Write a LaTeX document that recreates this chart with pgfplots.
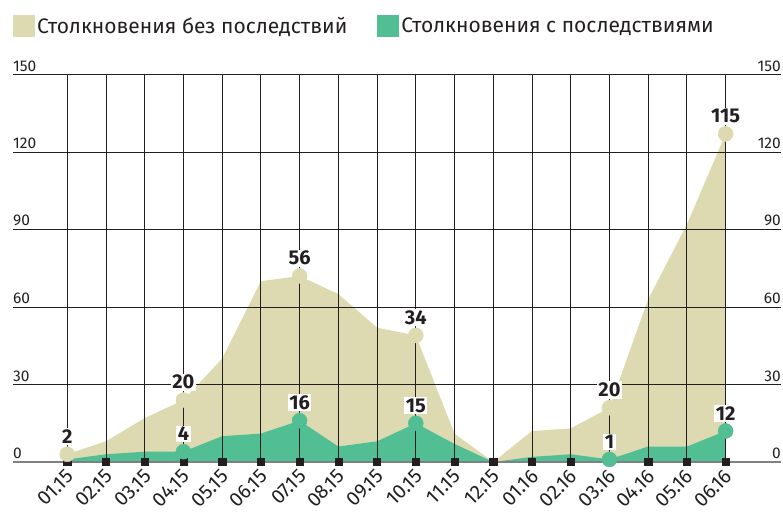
\documentclass[border=0pt]{standalone}
\usepackage{pgfplots}
\pgfplotsset{compat=1.18}
\usepackage{pgfplotstable}
\usepackage{fontspec}
\setmainfont{Fira Sans}
\definecolor{beige}{RGB}{221,218,178}
\definecolor{mint}{RGB}{82,190,148}
\definecolor{ink}{RGB}{35,31,32}

% x = month index, g = collisions with consequences, b = without consequences
\pgfplotstableread{
x g b
0 1 2
1 3 5
2 4 13
3 4 20
4 10 30
5 11 59
6 16 56
7 6 59
8 8 44
9 15 34
10 7 4
11 0 0
12 2 10
13 3 10
14 1 20
15 6 57
16 6 86
17 12 115
}\data
\pgfplotstableread{
x g b
0 1 2
3 4 20
6 16 56
9 15 34
14 1 20
17 12 115
}\markedb
\pgfplotstableread{
x g b
3 4 20
6 16 56
9 15 34
14 1 20
17 12 115
}\markedg

\tikzset{lbl/.style={anchor=south, yshift=9pt, fill=white, text=ink, inner sep=1.5pt,
    font=\bfseries\fontsize{20}{20}\selectfont}}
\pgfplotsset{
  common/.style={
    at={(13pt,66pt)}, anchor=south west,
    scale only axis, width=768pt, height=387.5pt,
    xmin=-1.4, xmax=18.43, ymin=0, ymax=150,
    axis line style={draw=none},
    ytick={0,30,60,90,120,150},
    major tick length=0pt,
    /pgf/number format/assume math mode=true,
    tick label style={text=ink},
  },
}

\begin{document}
\begin{tikzpicture}
\useasboundingbox (0,0) rectangle (783pt,528pt);
\begin{axis}[
  common,
  clip=false,
  xtick={0,...,17},
  xticklabels={01.15,02.15,03.15,04.15,05.15,06.15,07.15,08.15,09.15,10.15,11.15,12.15,01.16,02.16,03.16,04.16,05.16,06.16},
  yticklabel style={anchor=south west, inner sep=0pt, yshift=3pt, font=\fontsize{15.5}{15.5}\selectfont},
  x tick label style={font=\fontsize{20}{20}\selectfont, inner sep=0pt, anchor=east, xshift=3pt, yshift=-11pt, rotate=45},
  legend style={at={(0,1)}, anchor=south west, yshift=37pt, draw=none, fill=none, inner sep=0pt,
    font=\fontsize{21}{21}\selectfont, text=ink,
    /tikz/every even column/.append style={column sep=28pt}},
  legend columns=2,
  legend cell align=left,
  legend image code/.code={\fill[#1] (0pt,-11pt) rectangle (22pt,11pt);},
]
\addplot[fill=beige, draw=none] table[x=x, y expr=\thisrow{g}+\thisrow{b}] {\data} \closedcycle;
\addlegendentry{Столкновения без последствий}
\addplot[fill=mint, draw=none] table[x=x, y=g] {\data} \closedcycle;
\addlegendentry{Столкновения с последствиями}

% grid drawn over the areas
\pgfplotsinvokeforeach{0,1,2,3,4,5,6,7,8,9,10,11,12,13,14,15,16,17}{
  \draw[ink, line width=0.9pt] (axis cs:#1,0) -- (axis cs:#1,150);
}
\pgfplotsinvokeforeach{30,60,90,120,150}{
  \draw[ink, line width=0.9pt] (axis cs:-1.4,#1) -- (axis cs:18.43,#1);
}
\draw[black!50, line width=1.3pt] (axis cs:-1.4,0) -- (axis cs:18.43,0);

\addplot[forget plot, only marks, mark=square*, mark size=3.6pt, color=ink]
  table[x=x, y expr=0] {\data};

\addplot[forget plot, only marks, mark=*, mark size=7.5pt, color=beige,
  nodes near coords, point meta=explicit, every node near coord/.style={lbl}]
  table[x=x, y expr=\thisrow{g}+\thisrow{b}, meta=b] {\markedb};
\addplot[forget plot, only marks, mark=*, mark size=7.5pt, color=mint,
  nodes near coords, point meta=explicit, every node near coord/.style={lbl}]
  table[x=x, y=g, meta=g] {\markedg};
\end{axis}

\begin{axis}[
  common,
  xtick=\empty,
  yticklabel pos=right,
  yticklabel style={anchor=south east, inner sep=0pt, yshift=3pt, font=\fontsize{15.5}{15.5}\selectfont},
]
\end{axis}
\end{tikzpicture}
\end{document}
